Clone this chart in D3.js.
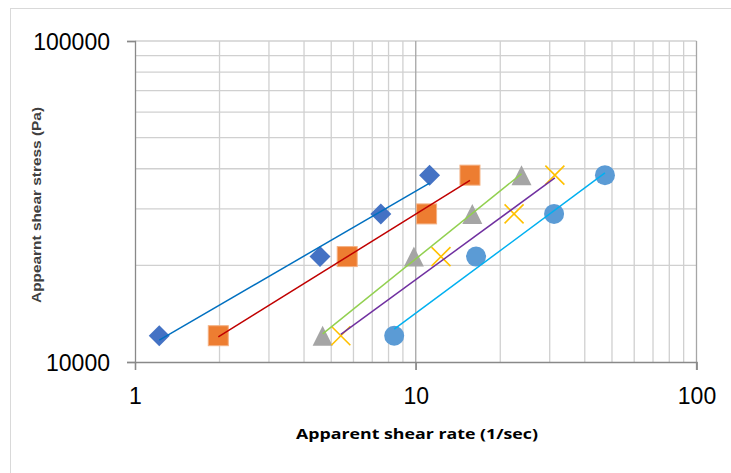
<!DOCTYPE html>
<html><head><meta charset="utf-8">
<script src="https://cdn.jsdelivr.net/npm/d3@7/dist/d3.min.js"></script>
<style>body{margin:0;background:#fff}svg{display:block}</style>
</head><body><svg id="c" width="731" height="473"></svg>
<script>
// ---- data ----
const stressLevels = [12075, 21300, 28930, 38200];
const seriesNames = ["Series1", "Series2", "Series3", "Series4", "Series5"];
const rateDiamond  = [1.22, 4.56, 7.51, 11.2];
const rateSquare   = [1.98, 5.70, 10.93, 15.6];
const rateTriangle = [4.66, 9.85, 15.9, 23.8];
const rateCross    = [5.41, 12.3, 22.4, 31.3];
const rateCircle   = [8.38, 16.4, 31.1, 47.2];
const xTickLabels = ["1", "10", "100"];
const yTickLabels = ["10000", "100000"];
const xTitle = "Apparent shear rate (1/sec)";
const yTitle = "Appearnt shear stress (Pa)";

const series = [
  {name: seriesNames[0], x: rateDiamond,  shape: "diamond",  fill: "#4472C4", line: "#0070C0"},
  {name: seriesNames[1], x: rateSquare,   shape: "square",   fill: "#ED7D31", line: "#C00000"},
  {name: seriesNames[2], x: rateTriangle, shape: "triangle", fill: "#A5A5A5", line: "#92D050"},
  {name: seriesNames[3], x: rateCross,    shape: "cross",    fill: "#FFC000", line: "#7030A0"},
  {name: seriesNames[4], x: rateCircle,   shape: "circle",   fill: "#5B9BD5", line: "#00B0F0"}
];

const svg = d3.select("#c");
const L = 135, R = 696.5, T = 41, B = 362;
const x = d3.scaleLog().domain([1, 100]).range([L, R]);
const y = d3.scaleLog().domain([10000, 100000]).range([B, T]);

// outer chart border
svg.append("rect").attr("x", 10.5).attr("y", 8.5).attr("width", 730).attr("height", 480)
  .attr("fill", "none").attr("stroke", "#D9D9D9").attr("stroke-width", 1);

// gridlines
const minorX = [2,3,4,5,6,7,8,9,20,30,40,50,60,70,80,90];
const minorY = [20000,30000,40000,50000,60000,70000,80000,90000,100000];
const g = svg.append("g");
g.selectAll(".gx").data(minorX).join("line")
  .attr("x1", d => x(d)).attr("x2", d => x(d)).attr("y1", T).attr("y2", B)
  .attr("stroke", "#D0D0D0").attr("stroke-width", 1.3);
g.selectAll(".gy").data(minorY).join("line")
  .attr("x1", L).attr("x2", R).attr("y1", d => y(d)).attr("y2", d => y(d))
  .attr("stroke", "#D0D0D0").attr("stroke-width", 1.3);
// major vertical gridlines (10, 100)
g.selectAll(".mx").data([10, 100]).join("line")
  .attr("x1", d => x(d)).attr("x2", d => x(d)).attr("y1", T).attr("y2", B + 8)
  .attr("stroke", "#A6A6A6").attr("stroke-width", 1.3);

// axes
const xAxis = d3.axisBottom(x).tickValues([1, 10, 100]).tickFormat((d, i) => xTickLabels[i]).tickSize(8).tickPadding(18);
const yAxis = d3.axisLeft(y).tickValues([10000, 100000]).tickFormat((d, i) => yTickLabels[i]).tickSize(8).tickPadding(17);
const xa = svg.append("g").attr("transform", `translate(0,${B})`).call(xAxis);
const ya = svg.append("g").attr("transform", `translate(${L},0)`).call(yAxis);
[xa, ya].forEach(a => {
  a.select(".domain").attr("stroke", "#898989").attr("stroke-width", 1.3);
  a.selectAll(".tick line").attr("stroke", "#898989").attr("stroke-width", 1.3);
  a.selectAll(".tick text").attr("fill", "#000").style("font-family", "'Liberation Sans', Arial, sans-serif").style("font-size", "23px");
});
ya.selectAll(".tick text").attr("dy", "0.35em");

// titles
svg.append("text").attr("x", 417).attr("y", 439).attr("text-anchor", "middle")
  .style("font-family", "'Open Sans', 'Liberation Sans', sans-serif").style("font-weight", "bold").style("font-size", "15px")
  .attr("textLength", 242).attr("lengthAdjust", "spacingAndGlyphs").text(xTitle);
svg.append("text").attr("transform", "translate(41,205) rotate(-90)").attr("text-anchor", "middle")
  .style("font-family", "'Liberation Sans', Arial, sans-serif").style("font-weight", "bold").style("font-size", "13px")
  .attr("fill", "#404040").attr("textLength", 196).attr("lengthAdjust", "spacingAndGlyphs").text(yTitle);

// markers
const plot = svg.append("g");
series.forEach(s => {
  const pts = s.x.map((v, i) => [v, stressLevels[i]]);
  const mg = plot.append("g");
  pts.forEach(([vx, vy]) => {
    const cx = x(vx), cy = y(vy);
    if (s.shape === "diamond") {
      mg.append("path").attr("d", `M${cx},${cy-10.5}L${cx+10.5},${cy}L${cx},${cy+10.5}L${cx-10.5},${cy}Z`).attr("fill", s.fill);
    } else if (s.shape === "square") {
      mg.append("rect").attr("x", cx-10).attr("y", cy-10).attr("width", 20).attr("height", 20)
        .attr("fill", s.fill).attr("stroke", "#F4B183").attr("stroke-width", 1);
    } else if (s.shape === "triangle") {
      mg.append("path").attr("d", `M${cx},${cy-10}L${cx+10},${cy+10}L${cx-10},${cy+10}Z`).attr("fill", s.fill);
    } else if (s.shape === "cross") {
      mg.append("path").attr("d", `M${cx-9.5},${cy-9.5}L${cx+9.5},${cy+9.5}M${cx+9.5},${cy-9.5}L${cx-9.5},${cy+9.5}`)
        .attr("stroke", s.fill).attr("stroke-width", 1.6).attr("fill", "none");
    } else {
      mg.append("circle").attr("cx", cx).attr("cy", cy).attr("r", 10).attr("fill", s.fill);
    }
  });
});

// power-law trendlines (least squares in log-log space)
series.forEach(s => {
  const lx = s.x.map(Math.log10), ly = stressLevels.map(Math.log10);
  const mx = d3.mean(lx), my = d3.mean(ly);
  const b = d3.sum(lx.map((v, i) => (v - mx) * (ly[i] - my))) / d3.sum(lx.map(v => (v - mx) ** 2));
  const a = my - b * mx;
  const x0 = d3.min(s.x), x1 = d3.max(s.x);
  const f = v => Math.pow(10, a + b * Math.log10(v));
  plot.append("line").attr("x1", x(x0)).attr("y1", y(f(x0))).attr("x2", x(x1)).attr("y2", y(f(x1)))
    .attr("stroke", s.line).attr("stroke-width", 1.5);
});
</script></body></html>
